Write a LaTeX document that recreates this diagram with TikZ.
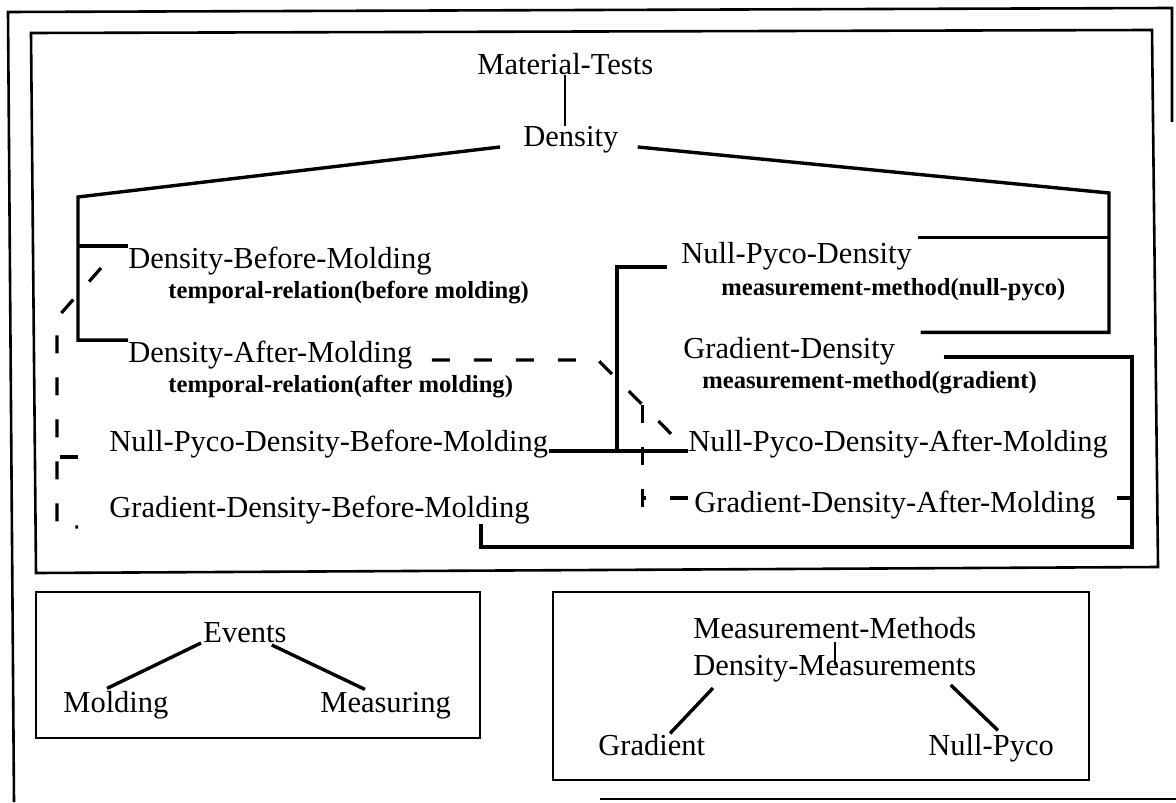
\documentclass[tikz,border=0pt]{standalone}
\usepackage{fontspec}
\setmainfont{Liberation Serif}
\usetikzlibrary{calc}

\begin{document}
\begin{tikzpicture}[x=0.5pt, y=-0.5pt,
        frame/.style = {line width=1.3pt},
        link/.style = {line width=1.7pt},
        heavy/.style = {line width=2.4pt},
        dlink/.style = {line width=1.6pt, dash pattern=on 9pt off 12pt},
        term/.style = {inner sep=0pt, anchor=base west, font=\fontsize{15.25}{18}\selectfont},
        attr/.style = {inner sep=0pt, anchor=base west, font=\fontsize{12.3}{15}\selectfont\bfseries}]
            \useasboundingbox (0,0) rectangle (1176,802);
            \draw[frame] (14,802) -- (8,12) -- (1172,8) -- (1172,122);
            \draw[frame] (600,799) -- (1176,799);
            \draw[frame] (31,33) -- (1152,30) -- (1158,567) -- (36,573) -- cycle;
            \draw[frame] (36,592) rectangle (480,738);
            \draw[frame] (553,592) rectangle (1089,780);

            \node[term] (mt) at (477,75) {Material-Tests};
            \node[term] (dens) at (523,147) {Density};
            \node[term] (dbm) at (128,268) {Density-Before-Molding};
            \node[attr] (tbm) at (168,298) {temporal-relation(before molding)};
            \node[term] (dam) at (128,362) {Density-After-Molding};
            \node[attr] (tam) at (168,392) {temporal-relation(after molding)};
            \node[term] (npdbm) at (109,451) {Null-Pyco-Density-Before-Molding};
            \node[term] (gdbm) at (109,517) {Gradient-Density-Before-Molding};
            \node[term] (npd) at (681,263) {Null-Pyco-Density};
            \node[attr] (mnp) at (721,295) {measurement-method(null-pyco)};
            \node[term] (gd) at (683,358) {Gradient-Density};
            \node[attr] (mg) at (702,388) {measurement-method(gradient)};
            \node[term] (npdam) at (688,451) {Null-Pyco-Density-After-Molding};
            \node[term] (gdam) at (694,512) {Gradient-Density-After-Molding};

            \node[term] (ev) at (203,642) {Events};
            \node[term] (mo) at (63,712) {Molding};
            \node[term] (ms) at (320,712) {Measuring};
            \node[term] (mm) at (693,638) {Measurement-Methods};
            \node[term] (dm) at (693,675) {Density-Measurements};
            \node[term] (gm) at (598,755) {Gradient};
            \node[term] (nm) at (928,755) {Null-Pyco};

            \coordinate (lk) at (78,197);
            \coordinate (rk) at (1109,193);
            \coordinate (nj) at (617,451);
            \coordinate (gr) at (1132,547);
            \coordinate (gb) at (481,547);
            \coordinate (dl) at (57,318);
            \coordinate (dk) at (598,360);

            \draw[line width=1pt] (mt.base) -- (mt.base |- dens.north);
            \draw[link] ($(dens.base west)+(-23,0)$) -- (lk) |- (dam.north west);
            \draw[link] (lk |- dbm.north west) -- (dbm.north west);
            \draw[link] ($(dens.base east)+(19,0)$) -- (rk) |- ($(gd.north east)+(25,-4)$);
            \draw[link] ($(npd.north east)+(6,-4)$) coordinate (nt) -- (nt -| rk);

            \draw[heavy] ($(npd.base west)+(-14,4)$) -| (nj) -- (npdam.base west);
            \draw[heavy] (npdbm.base east) -- (nj);
            \draw[heavy] ($(gd.base east)+(48,-1)$) -| (gr) -- (gb) -- (gb |- gdbm.south);
            \draw[heavy] ($(gdam.base east)+(21,-14)$) coordinate (gt) -- (gt -| gr);

            \draw[dlink] ($(dbm.base west)+(-27,0)$) -- (dl) |- ($(gdbm.base west)+(-31,10)$);
            \draw[dlink] ($(npdbm.base west)+(-31,6)$) coordinate (ns) -- (ns -| dl);
            \draw[dlink] ($(dam.base east)+(19,-2)$) -- (dk) -- (npdam.base west);
            \draw[dlink] ($(dk)!0.49!(npdam.base west)$) coordinate (dv) -- ++(0,120);
            \draw[dlink] ($(gdam.base west)+(-6,-14)$) coordinate (ga) -- (ga -| dv);

            \draw[link] ($(ev.base west)+(-2,1)$) -- ($(mo.north west)+(44,-2)$);
            \draw[link] ($(ev.base east)+(-15,3)$) -- ($(ms.north west)+(45,-2)$);
            \draw[line width=1pt] ($(mm.base)+(0,4)$) -- ($(mm.base |- dm.base)+(0,-10)$);
            \draw[link] ($(dm.base west)+(20,13)$) -- ($(gm.north west)+(72,0)$);
            \draw[link] ($(dm.base east)+(-26,10)$) -- ($(nm.north west)+(70,-3)$);
        \end{tikzpicture}
\end{document}
